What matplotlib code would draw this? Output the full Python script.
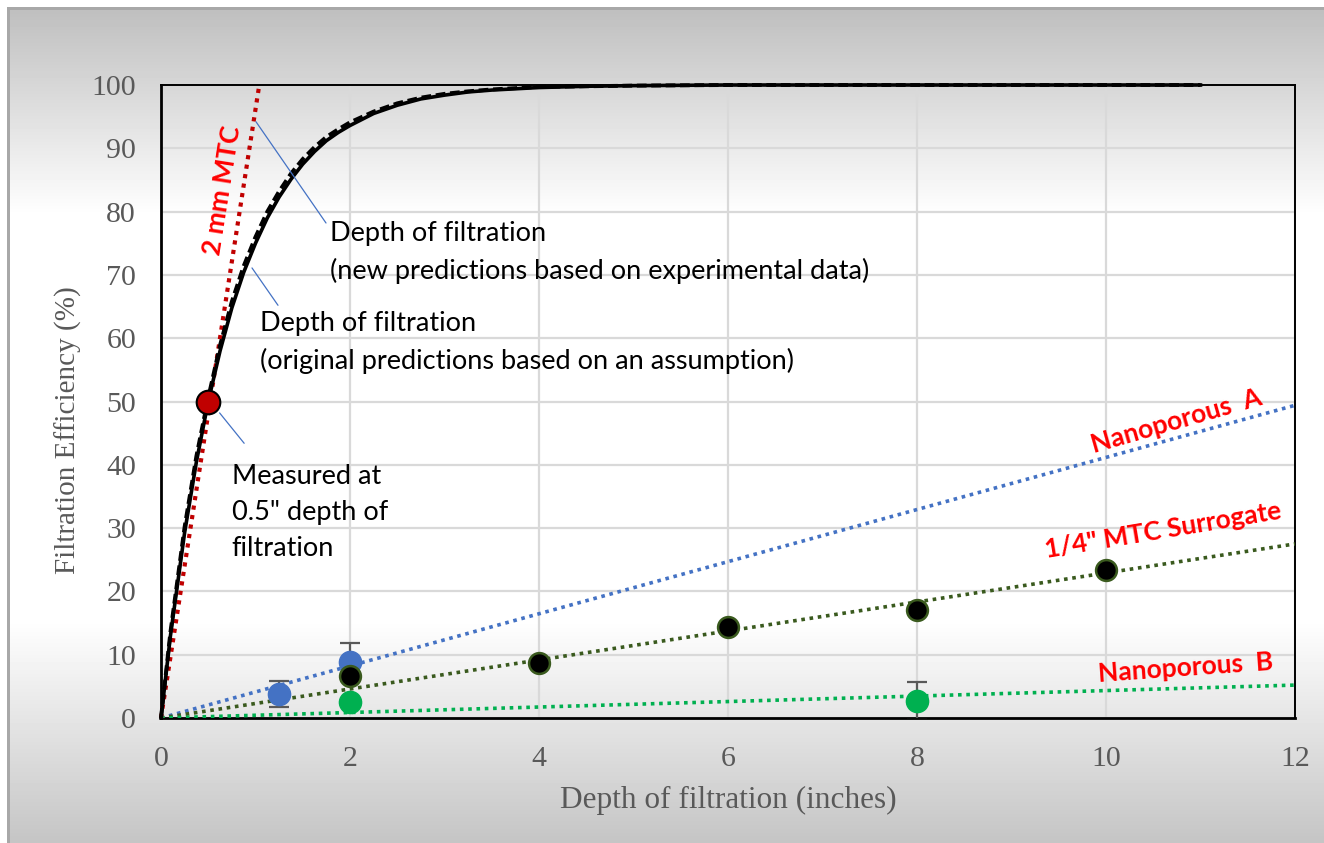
import matplotlib.pyplot as plt
import numpy as np

plt.rcParams['font.family'] = ['Liberation Serif', 'DejaVu Serif']

# depth-of-filtration prediction curves
curve_x = [0, 0.1, 0.25, 0.375, 0.5, 0.625, 0.75, 0.875, 1, 1.125, 1.25, 1.375, 1.5,
           1.625, 1.75, 1.875, 2, 2.25, 2.5, 2.75, 3, 3.25, 3.5, 4, 4.5, 5, 6, 8, 11]
new_y = [0, 13, 29.3, 40.5, 50, 58, 64.8, 70.4, 75, 79, 82.3, 85.1, 87.5,
         89.5, 91.2, 92.5, 93.6, 95.5, 96.8, 97.8, 98.4, 98.9, 99.2, 99.6, 99.8, 99.9, 100, 100, 100]
orig_y = [0, 13.6, 30.2, 41.4, 50.6, 58.9, 65.8, 71.4, 76, 80, 83.2, 86, 88.3,
          90.2, 91.8, 93.0, 94.1, 95.8, 97.1, 98.0, 98.6, 99.0, 99.3, 99.7, 99.8, 99.9, 100, 100, 100]

# measured point at 0.5" and 2 mm MTC trend
meas_x, meas_y = [0.5], [50]
mtc2_x, mtc2_y = [0, 1.04], [0, 100]

# nanoporous A
nanoA_x = [1.25, 2]
nanoA_y = [3.8, 8.8]
nanoA_err = [2.0, 3.0]
nanoA_fit = [0, 49.4]

# 1/4" MTC surrogate
surr_x = [2, 4, 6, 8, 10]
surr_y = [6.6, 8.7, 14.4, 17.1, 23.4]
surr_fit = [0, 27.5]

# nanoporous B
nanoB_x = [2, 8]
nanoB_y = [2.5, 2.7]
nanoB_err = [0, 3.0]
nanoB_fit = [0, 5.2]

fit_x = [0, 12]

fig = plt.figure(figsize=(13.24, 8.43), dpi=100)

# gradient backdrop with frame
H, W = 843, 1324
rows = np.arange(H)
shade = np.interp(rows, [10, 215, 620, 843], [0.75, 1.0, 1.0, 0.77])
img = np.tile(shade[:, None], (1, W))
img[:7, :] = 1
img[:, :7] = 1
img[7:10, 7:] = 0.66
img[7:, 7:10] = 0.66
bg = fig.add_axes([0, 0, 1, 1])
bg.imshow(img, cmap='gray', vmin=0, vmax=1, aspect='auto', extent=[0, 1, 0, 1],
          interpolation='bilinear')
bg.axis('off')

ax = fig.add_axes([161 / W, (H - 718) / H, (1295 - 161) / W, (718 - 85) / H])
ax.patch.set_alpha(0)
ax.set_axisbelow(True)

ax.set_xlim(0, 12)
ax.set_ylim(0, 100)
ax.set_xticks(np.arange(0, 13, 2))
ax.set_yticks(np.arange(0, 101, 10))
ax.grid(True, color='#d9d9d9', lw=1.6)
ax.tick_params(length=0, labelsize=21.5, labelcolor='#595959')
ax.tick_params(axis='x', pad=20)
ax.tick_params(axis='y', pad=18)
for s in ax.spines.values():
    s.set_color('black')
    s.set_linewidth(1.4)
ax.spines['left'].set_linewidth(2)
ax.spines['bottom'].set_linewidth(2)

ax.set_xlabel('Depth of filtration (inches)', fontsize=22.5, color='#595959')
ax.set_ylabel('Filtration Efficiency (%)', fontsize=21, color='#595959')
ax.xaxis.set_label_coords(0.5, -0.108)
ax.yaxis.set_label_coords(-0.07, 0.455)

dot = (0, (1, 1.3))

# trend lines
ax.plot(fit_x, nanoA_fit, color='#4472c4', lw=2.6, ls=dot, zorder=3)
ax.plot(fit_x, surr_fit, color='#3a5a1e', lw=2.6, ls=dot, zorder=3)
ax.plot(fit_x, nanoB_fit, color='#00b050', lw=2.6, ls=dot, zorder=3)
ax.plot(mtc2_x, mtc2_y, color='#c00000', lw=3, ls=dot, zorder=4, clip_on=False)

# prediction curves
ax.plot(curve_x, orig_y, color='black', lw=2.8, ls=(0, (2.5, 1.2)), zorder=5, clip_on=False)
ax.plot(curve_x, new_y, color='black', lw=2.6, zorder=5, clip_on=False)

# data points
ax.errorbar(nanoA_x, nanoA_y, yerr=nanoA_err, fmt='none', ecolor='#595959',
            elinewidth=1.6, capsize=7, capthick=1.6, zorder=6)
ax.plot(nanoA_x, nanoA_y, 'o', ms=16, color='#4472c4', mec='#4472c4', zorder=7)
ax.errorbar(nanoB_x, nanoB_y, yerr=nanoB_err, fmt='none', ecolor='#595959',
            elinewidth=1.6, capsize=7, capthick=1.6, zorder=6)
ax.plot(nanoB_x, nanoB_y, 'o', ms=16, color='#00b050', mec='#00b050', zorder=7)
ax.plot(surr_x, surr_y, 'o', ms=15, color='black', mec='#3a5a1e', mew=1.8, zorder=8)
ax.plot(meas_x, meas_y, 'o', ms=17, color='#c00000', mec='black', mew=1.5, zorder=9)

# annotations
txt = dict(family=['Lato', 'DejaVu Sans'], fontsize=19.5, color='black',
           ha='left', va='center', linespacing=1.55, zorder=10)
lead = dict(arrowstyle='-', color='#4472c4', lw=0.9, shrinkA=0, shrinkB=0)
ax.text(1.79, 73.5, 'Depth of filtration\n(new predictions based on experimental data)', **txt)
ax.annotate('', xy=(1.005, 94.2), xytext=(1.746, 78.2), arrowprops=lead, zorder=10)
ax.text(1.05, 59.3, 'Depth of filtration\n(original predictions based on an assumption)', **txt)
ax.annotate('', xy=(0.963, 71.1), xytext=(1.238, 65.2), arrowprops=lead, zorder=10)
ax.text(0.75, 32.4, 'Measured at\n0.5" depth of\nfiltration', **txt)
ax.annotate('', xy=(0.62, 48.2), xytext=(0.88, 43.4), arrowprops=lead, zorder=10)

lab = dict(family=['Lato', 'DejaVu Sans'], fontsize=19, fontweight='bold',
           color='#ff0000', ha='center', va='center', rotation_mode='anchor', zorder=10)
ax.text(0.645, 83.4, '2 mm MTC', rotation=81, **lab)
ax.text(10.75, 46.9, 'Nanoporous  A', rotation=16, **lab)
ax.text(10.6, 29.6, '1/4" MTC Surrogate', rotation=9.5, **lab)
ax.text(10.84, 7.9, 'Nanoporous  B', rotation=4, **lab)

fig.savefig('out.png', dpi=100)
